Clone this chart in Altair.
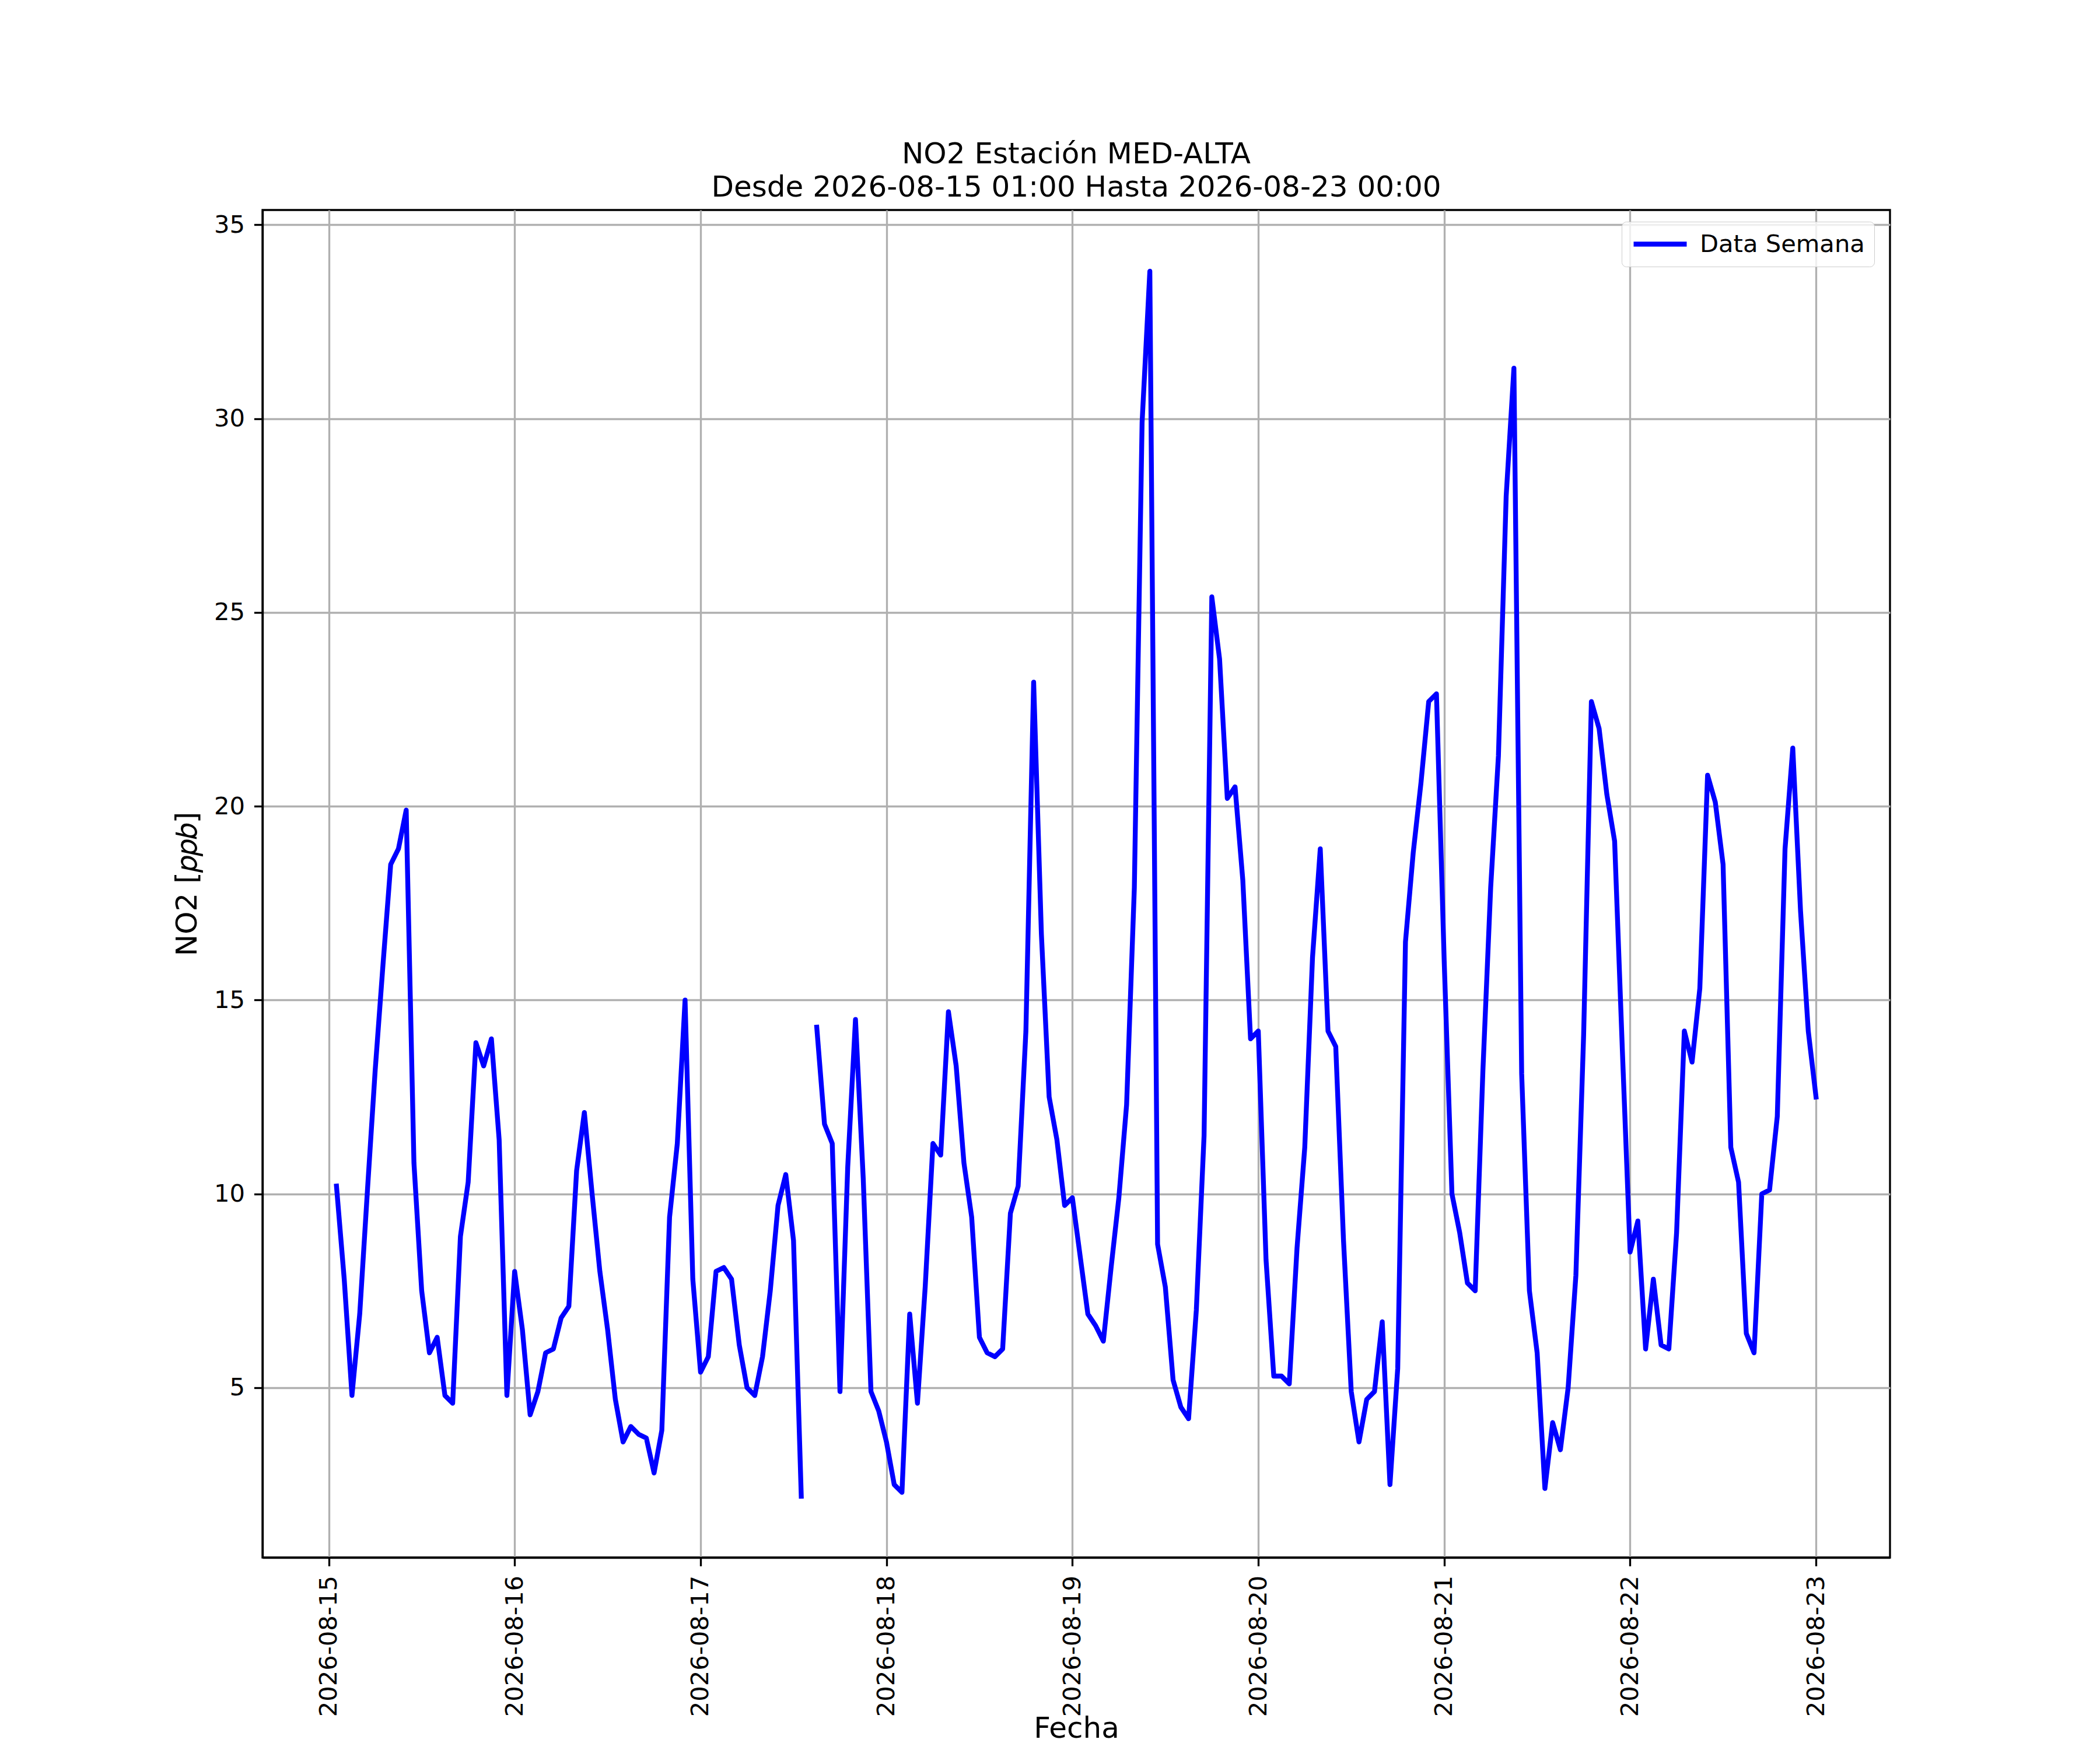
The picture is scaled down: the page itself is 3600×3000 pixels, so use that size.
import altair as alt
import pandas as pd
import numpy as np

# Hourly NO2 values (ppb), 2026-08-15 01:00 .. 2026-08-23 00:00
day15 = [10.2, 7.8, 4.8, 6.9, 10.1, 13.2, 15.9, 18.5, 18.9, 19.9, 10.8, 7.5,
         5.9, 6.3, 4.8, 4.6, 8.9, 10.3, 13.9, 13.3, 14.0, 11.4, 4.8, 8.0]
day16 = [6.5, 4.3, 4.9, 5.9, 6.0, 6.8, 7.1, 10.6, 12.1, 10.0, 8.0, 6.5,
         4.7, 3.6, 4.0, 3.8, 3.7, 2.8, 3.9, 9.4, 11.3, 15.0, 7.8, 5.4]
day17 = [5.8, 8.0, 8.1, 7.8, 6.1, 5.0, 4.8, 5.8, 7.5, 9.7, 10.5, 8.8,
         2.2, None, 14.3, 11.8, 11.3, 4.9, 10.7, 14.5, 10.4, 4.9, 4.4, 3.6]
day18 = [2.5, 2.3, 6.9, 4.6, 7.6, 11.3, 11.0, 14.7, 13.3, 10.8, 9.4, 6.3,
         5.9, 5.8, 6.0, 9.5, 10.2, 14.2, 23.2, 16.7, 12.5, 11.4, 9.7, 9.9]
day19 = [8.4, 6.9, 6.6, 6.2, 8.1, 9.9, 12.3, 17.9, 29.9, 33.8, 8.7, 7.6,
         5.2, 4.5, 4.2, 7.0, 11.5, 25.4, 23.8, 20.2, 20.5, 18.1, 14.0, 14.2]
day20 = [8.3, 5.3, 5.3, 5.1, 8.6, 11.2, 16.1, 18.9, 14.2, 13.8, 8.8, 4.9,
         3.6, 4.7, 4.9, 6.7, 2.5, 5.5, 16.5, 18.8, 20.6, 22.7, 22.9, 16.0]
day21 = [10.0, 9.0, 7.7, 7.5, 13.2, 17.9, 21.3, 28.0, 31.3, 13.1, 7.5, 5.9,
         2.4, 4.1, 3.4, 5.0, 7.9, 14.1, 22.7, 22.0, 20.3, 19.1, 13.7, 8.5]
day22 = [9.3, 6.0, 7.8, 6.1, 6.0, 9.0, 14.2, 13.4, 15.3, 20.8, 20.1, 18.5,
         11.2, 10.3, 6.4, 5.9, 10.0, 10.1, 12.0, 18.9, 21.5, 17.3, 14.2, 12.5]

values = day15 + day16 + day17 + day18 + day19 + day20 + day21 + day22
times = pd.date_range("2026-08-15 01:00", periods=len(values), freq="h")
tick_days = ["2026-08-15", "2026-08-16", "2026-08-17", "2026-08-18",
             "2026-08-19", "2026-08-20", "2026-08-21", "2026-08-22", "2026-08-23"]
y_ticks = [5, 10, 15, 20, 25, 30, 35]
serie = "Data Semana"

df = pd.DataFrame({
    "fecha": [t.strftime("%Y-%m-%dT%H:%M:%S") for t in times],
    "no2": values,
    "serie": serie,
})

def dt(s, h=0, m=0):
    y, mo, d = (int(p) for p in s.split("-"))
    return alt.DateTime(year=y, month=mo, date=d, hours=h, minutes=m)

tick_vals = [dt(s) for s in tick_days]

FONT = "DejaVu Sans"
PX = 300 / 72.0

line = alt.Chart(df).mark_line(
    strokeWidth=2 * PX, strokeCap="square", strokeJoin="round",
    invalid="break-paths-show-domains", clip=True,
).encode(
    x=alt.X("fecha:T",
            scale=alt.Scale(domain=[dt("2026-08-14", 15, 27), dt("2026-08-23", 9, 33)], nice=False),
            axis=alt.Axis(values=tick_vals, format="%Y-%m-%d", labelAngle=270,
                          title="Fecha", grid=True, labelLimit=0)),
    y=alt.Y("no2:Q",
            scale=alt.Scale(domain=[0.62, 35.38], nice=False, zero=False),
            axis=alt.Axis(values=y_ticks, title="NO2 [𝑝𝑝𝑏]", grid=True, labelLimit=0)),
    color=alt.Color("serie:N", scale=alt.Scale(range=["#0000ff"]), title=None,
                    legend=alt.Legend(orient="none", legendX=2330, legendY=20,
                                      symbolType="stroke", symbolSize=8281,
                                      symbolStrokeWidth=2 * PX, labelFontSize=10 * PX,
                                      labelFont=FONT, labelColor="black", labelLimit=0,
                                      labelOffset=18, padding=16, clipHeight=45,
                                      strokeColor="#cccccc", fillColor="rgba(255,255,255,0.8)",
                                      cornerRadius=8)),
)

chart = line.properties(
    width=2790, height=2310,
    title=alt.TitleParams(
        text=["NO2 Estación MED-ALTA", "Desde 2026-08-15 01:00 Hasta 2026-08-23 00:00"],
        font=FONT, fontSize=12 * PX, fontWeight="normal", color="black",
        anchor="middle", lineHeight=57, offset=13,
    ),
    autosize=alt.AutoSizeParams(type="none"),
    padding={"left": 442, "top": 352, "right": 352, "bottom": 322},
    background="white",
).configure_view(
    stroke="black", strokeWidth=0.8 * PX,
).configure_axis(
    labelFont=FONT, titleFont=FONT,
    labelFontSize=10 * PX, titleFontSize=12 * PX,
    labelColor="black", titleColor="black", titleFontWeight="normal",
    domainColor="black", domainWidth=0.8 * PX,
    tickColor="black", tickWidth=0.8 * PX, tickSize=3.5 * PX,
    gridColor="#b0b0b0", gridWidth=0.8 * PX, gridOpacity=1,
    labelPadding=16,
).configure_axisY(
    titlePadding=20,
).configure_axisX(
    titlePadding=68,
)

chart.save("out.html", embed_options={"renderer": "svg", "actions": False})
